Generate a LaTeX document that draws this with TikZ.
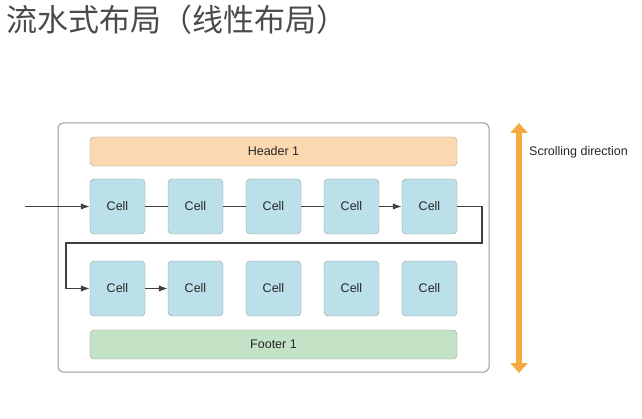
\documentclass[tikz,border=0pt]{standalone}
\usepackage{fontspec}
\setmainfont{Liberation Sans}
\newfontfamily\cjk{Noto Sans CJK SC}
\usetikzlibrary{arrows.meta}
\definecolor{cellfill}{HTML}{BCE0EA}
\definecolor{headfill}{HTML}{FCD8B0}
\definecolor{footfill}{HTML}{C4E2C6}
\definecolor{boxline}{HTML}{9A9A9A}
\definecolor{orangearrow}{HTML}{F7A940}
\definecolor{titlegray}{HTML}{4A4A4A}
\begin{document}
\begin{tikzpicture}[x=1pt,y=-1pt,
  cellbox/.style={draw=boxline,fill=cellfill,rounded corners=4pt,minimum width=55pt,minimum height=55pt,inner sep=0pt,font=\fontsize{12.5}{14}\selectfont,text=black!85},
  barbox/.style={draw=boxline,rounded corners=4pt,minimum width=367pt,minimum height=29pt,inner sep=0pt,font=\fontsize{12.5}{14}\selectfont,text=black!85},
  flow/.style={draw=black!75,line width=1.2pt},
  flowarrow/.style={flow,-{Latex[length=9pt,width=6.5pt]}}]
\useasboundingbox (0,0) rectangle (642,419);
\node[anchor=base west,font=\cjk\fontsize{31}{34}\selectfont,text=titlegray,inner sep=0pt] (title) at (6,32) {流水式布局（线性布局）};
\node[draw=boxline,line width=1pt,rounded corners=5pt,minimum width=431pt,minimum height=249pt,inner sep=0pt] (outer) at (273.5,247.5) {};
\node[barbox,fill=headfill] (header) at (273.5,151.5) {Header 1};
\node[barbox,fill=footfill] (footer) at (273.5,344.5) {Footer 1};
\foreach \i in {1,...,5}{
  \node[cellbox] (a\i) at ({117.5+78*(\i-1)},206.5) {Cell};
  \node[cellbox] (b\i) at ({117.5+78*(\i-1)},288.5) {Cell};
}
\coordinate (start) at (25,206.5);
\draw[flowarrow] (start) -- (a1);
\draw[flow] (a1) -- (a2);
\draw[flow] (a2) -- (a3);
\draw[flow] (a3) -- (a4);
\draw[flowarrow] (a4) -- (a5);
\coordinate (t1) at (482,206.5);
\coordinate (t2) at (482,243);
\coordinate (t3) at (66,243);
\coordinate (t4) at (66,288.5);
\draw[flowarrow] (a5.east) -- (t1) -- (t2) -- (t3) -- (t4) -- (b1.west);
\draw[flowarrow] (b1) -- (b2);
\coordinate (stop) at (519,123);
\coordinate (sbot) at (519,373);
\draw[orangearrow,line width=5.5pt,{Triangle[length=10pt,width=17pt]}-{Triangle[length=10pt,width=17pt]}] (stop) -- (sbot);
\node[anchor=west,font=\fontsize{12.5}{14}\selectfont,text=black!85,inner sep=0pt] (scroll) at (529,152) {Scrolling direction};
\end{tikzpicture}
\end{document}
